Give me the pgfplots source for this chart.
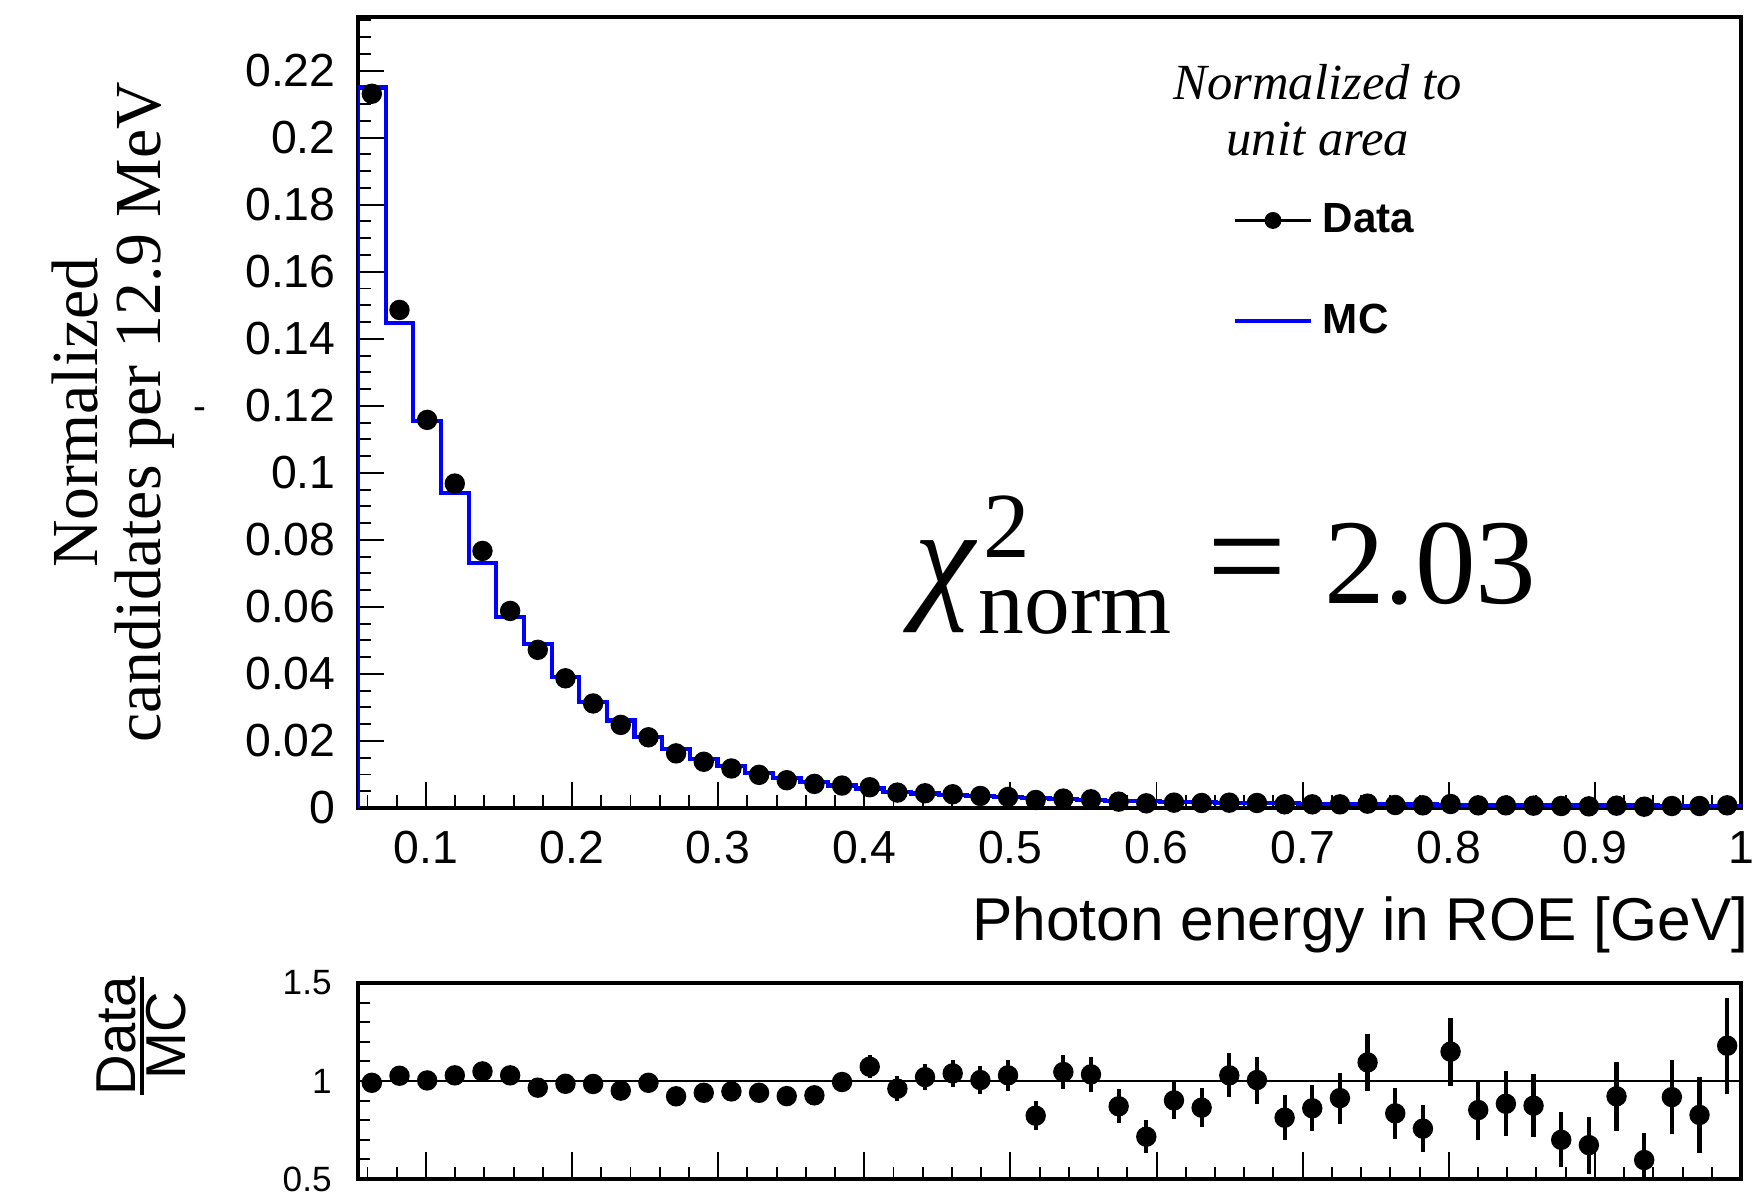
\documentclass[border=0pt]{standalone}
\usepackage{amsmath}
\usepackage{fontspec}
\setmainfont{Liberation Serif}
\setsansfont{Liberation Sans}
\usepackage{pgfplots}
\usepackage{pgfplotstable}
\pgfplotsset{compat=1.18}

\pgfplotstableread{
edge mc
0.0535 0
0.0535 0.2150
0.07243 0.1447
0.09136 0.1155
0.11029 0.0941
0.12922 0.0731
0.14815 0.0571
0.16708 0.0489
0.18601 0.0392
0.20494 0.0317
0.22387 0.0261
0.2428 0.0213
0.26173 0.0177
0.28066 0.0147
0.29959 0.0125
0.31852 0.0105
0.33745 0.0090
0.35638 0.0078
0.37531 0.0067
0.39424 0.0058
0.41317 0.0048
0.4321 0.0043
0.45103 0.0039
0.46996 0.0036
0.48889 0.0032
0.50782 0.0029
0.52675 0.0027
0.54568 0.0025
0.56461 0.0022
0.58354 0.0020
0.60247 0.0018
0.6214 0.0017
0.64033 0.0016
0.65926 0.0015
0.67819 0.0014
0.69712 0.0013
0.71605 0.0012
0.73498 0.00115
0.75391 0.0011
0.77284 0.00105
0.79177 0.0010
0.8107 0.00095
0.82963 0.0009
0.84856 0.00085
0.86749 0.0008
0.88642 0.00078
0.90535 0.00075
0.92428 0.00072
0.94321 0.0007
0.96214 0.00068
0.98107 0.00065
1.0 0.00065
}\mctable

\pgfplotstableread{
x data ratio err
0.06297 0.2131 0.991 0.006
0.0819 0.1486 1.027 0.008
0.10083 0.1158 1.003 0.009
0.11976 0.0968 1.029 0.010
0.13869 0.0767 1.049 0.012
0.15762 0.0588 1.029 0.014
0.17655 0.0472 0.966 0.016
0.19548 0.0387 0.986 0.018
0.21441 0.0312 0.985 0.020
0.23334 0.0248 0.951 0.022
0.25227 0.0211 0.991 0.024
0.2712 0.0163 0.922 0.027
0.29013 0.0138 0.940 0.030
0.30906 0.0118 0.947 0.032
0.32799 0.0099 0.940 0.035
0.34692 0.0083 0.923 0.038
0.36585 0.0072 0.927 0.042
0.38478 0.0067 0.995 0.050
0.40371 0.0062 1.073 0.060
0.42264 0.0046 0.961 0.064
0.44157 0.0044 1.020 0.068
0.4605 0.0041 1.039 0.069
0.47943 0.0036 1.005 0.072
0.49836 0.0033 1.029 0.079
0.51729 0.0024 0.823 0.075
0.53622 0.0028 1.046 0.087
0.55515 0.0026 1.034 0.090
0.57408 0.0019 0.871 0.087
0.59301 0.0014 0.716 0.083
0.61194 0.0016 0.901 0.096
0.63087 0.0015 0.864 0.100
0.6498 0.0016 1.029 0.113
0.66873 0.0015 1.005 0.120
0.68766 0.0011 0.813 0.114
0.70659 0.0011 0.861 0.118
0.72552 0.0011 0.913 0.130
0.74445 0.0013 1.095 0.147
0.76338 0.0009 0.835 0.130
0.78231 0.0008 0.757 0.120
0.80124 0.0012 1.150 0.174
0.82017 0.0008 0.852 0.155
0.8391 0.0008 0.884 0.165
0.85803 0.0007 0.874 0.160
0.87696 0.0006 0.700 0.140
0.89589 0.0005 0.673 0.145
0.91482 0.0007 0.922 0.176
0.93375 0.0004 0.597 0.140
0.95268 0.0006 0.918 0.190
0.97161 0.0006 0.827 0.195
0.99054 0.0008 1.180 0.244
}\datatable

\pgfplotsset{
  datalegend/.style={legend image code/.code={\draw[mark repeat=2,mark phase=2,##1] plot coordinates {(0mm,0mm)(3.8mm,0mm)(7.6mm,0mm)};}},
  mclegend/.style={legend image code/.code={\draw[##1] (0mm,0mm) -- (7.6mm,0mm);}},
  rootstyle/.style={
    scale only axis,
    width=138.3mm,
    xmin=0.0535, xmax=1,
    xtick={0.1,0.2,0.3,0.4,0.5,0.6,0.7,0.8,0.9,1},
    minor xtick={0.06,0.08,0.12,0.14,0.16,0.18,0.22,0.24,0.26,0.28,0.32,0.34,0.36,0.38,0.42,0.44,0.46,0.48,0.52,0.54,0.56,0.58,0.62,0.64,0.66,0.68,0.72,0.74,0.76,0.78,0.82,0.84,0.86,0.88,0.92,0.94,0.96,0.98},
    xtick pos=bottom, ytick pos=left,
    tick align=inside,
    axis line style={line width=1.15pt},
    tick style={line width=0.55pt, black},
    major tick length=2.6mm,
    minor tick length=1.35mm,
    /pgf/number format/assume math mode=true,
    scaled x ticks=false, scaled y ticks=false,
    xticklabel style={/pgf/number format/fixed, /pgf/number format/precision=2},
    yticklabel style={/pgf/number format/fixed, /pgf/number format/precision=2},
  }
}

\begin{document}
\begin{tikzpicture}
\begin{axis}[
  rootstyle,
  at={(0,0)}, anchor=north west,
  height=79.1mm,
  ymin=0, ymax=0.236,
  ytick={0,0.02,0.04,0.06,0.08,0.1,0.12,0.14,0.16,0.18,0.2,0.22},
  minor ytick={0.005,0.01,0.015,0.025,0.03,0.035,0.045,0.05,0.055,0.065,0.07,0.075,0.085,0.09,0.095,0.105,0.11,0.115,0.125,0.13,0.135,0.145,0.15,0.155,0.165,0.17,0.175,0.185,0.19,0.195,0.205,0.21,0.215,0.225,0.23,0.235},
  ticklabel style={font=\sffamily\fontsize{13.2}{14}\selectfont},
  xticklabel style={yshift=-1.1mm},
  yticklabel style={xshift=-1.0mm},
  xlabel={Photon energy in ROE [GeV]},
  xlabel style={font=\sffamily\fontsize{17.2}{20}\selectfont, at={(axis description cs:1.0058,-0.1669)}, anchor=base east, inner sep=0pt},
  ylabel={Normalized\\candidates per 12.9 MeV},
  ylabel style={font=\fontsize{18.7}{17.8}\selectfont, at={(axis description cs:-0.177,0.5)}, anchor=center, align=center},
  legend style={at={(rel axis cs:0.6327,0.7645)}, anchor=north west, draw=none, fill=none, inner sep=0pt, outer sep=0pt,
    font=\sffamily\bfseries\fontsize{12}{14}\selectfont, row sep=6.6mm,
    nodes={inner sep=0pt}, /tikz/every odd column/.append style={column sep=1mm}},
  legend cell align=left,
]
\addplot[blue, line width=1.2pt, const plot, forget plot] table[x=edge, y=mc] {\mctable};
\addplot[black, only marks, mark=*, mark size=0.95mm, forget plot] table[x=x, y=data] {\datatable};
\addlegendimage{black, line width=1.1pt, mark=*, mark size=0.65mm, datalegend}
\addlegendentry{Data}
\addlegendimage{blue, line width=1.1pt, mclegend}
\addlegendentry{MC}
\node[anchor=base, font=\itshape\fontsize{14.4}{16}\selectfont, inner sep=0pt] at (rel axis cs:0.694,0.896) {Normalized to};
\node[anchor=base, font=\itshape\fontsize{14.4}{16}\selectfont, inner sep=0pt] at (rel axis cs:0.694,0.8255) {unit area};
\node[anchor=base east, inner sep=0pt, font=\fontsize{34.5}{36}\selectfont] at (rel axis cs:0.8525,0.258) {\hspace{0.9mm}\rlap{\fontsize{39}{39}\selectfont\itshape χ}\hspace{6.4mm}\rlap{\raisebox{4.6mm}{\fontsize{26.5}{26.5}\selectfont\hspace{0.5mm}2}}\raisebox{-3.0mm}{\fontsize{26}{26}\selectfont norm}\hspace{3.6mm}{\fontsize{40}{40}\selectfont =}\hspace{3.7mm}2.03};
\end{axis}

\node[font=\sffamily\fontsize{11}{12}\selectfont, inner sep=0pt] at (-15.8mm,-39.65mm) {-};

\begin{axis}[
  rootstyle,
  at={(0,-96.6mm)}, anchor=north west,
  height=19.6mm,
  ymin=0.5, ymax=1.5,
  ytick={0.5,1,1.5},
  minor ytick={0.6,0.7,0.8,0.9,1.1,1.2,1.3,1.4},
  xticklabels={},
  ticklabel style={font=\sffamily\fontsize{10}{12}\selectfont},
  yticklabel style={xshift=-1.4mm},
  major tick length=2.7mm,
  minor tick length=1.25mm,
  ylabel={\setlength{\arrayrulewidth}{0.9pt}\begin{tabular}{@{}c@{}}Data\\[-1.3mm]\hline MC\end{tabular}},
  ylabel style={font=\sffamily\fontsize{16}{17}\selectfont, at={(axis description cs:-0.1515,0.73)}, anchor=center, inner sep=0pt},
]
\addplot[black, line width=0.75pt, forget plot] coordinates {(0.0535,1) (1,1)};
\addplot[black, only marks, mark=*, mark size=0.95mm,
  error bars/.cd, y dir=both, y explicit, error mark=none,
  error bar style={line width=1.2pt}]
  table[x=x, y=ratio, y error=err] {\datatable};
\end{axis}

\pgfresetboundingbox
\path[use as bounding box] (-35.8mm,1.7mm) rectangle (140mm,-118.6mm);
\end{tikzpicture}
\end{document}
